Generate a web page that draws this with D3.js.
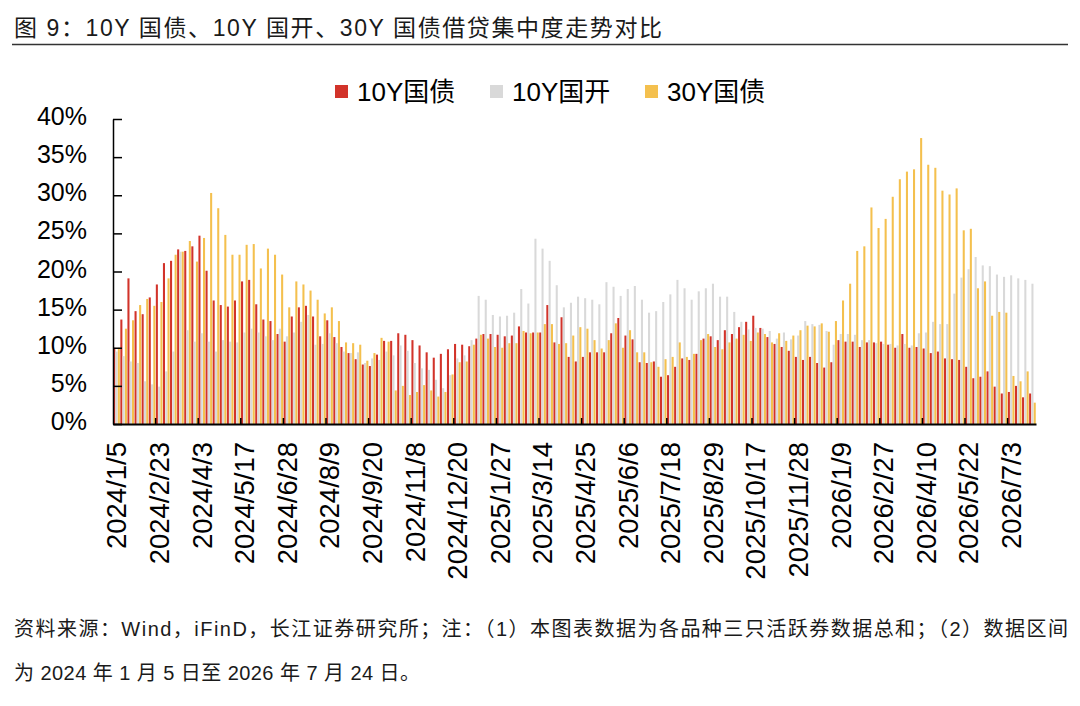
<!DOCTYPE html>
<html lang="zh">
<head>
<meta charset="UTF-8">
<title>借贷集中度走势对比</title>
<script src="https://d3js.org/d3.v7.min.js"></script>
<style>
  body { margin: 0; background: #fff; }
  svg text { font-family: "Liberation Sans", Arial, "Noto Sans CJK SC", sans-serif; fill: #000; }
</style>
</head>
<body>
<script>
// x-axis labels, one every 6 weekly categories
const tickLabels = ["2024/1/5","2024/2/23","2024/4/3","2024/5/17","2024/6/28","2024/8/9",
  "2024/9/20","2024/11/8","2024/12/20","2025/1/27","2025/3/14","2025/4/25","2025/6/6",
  "2025/7/18","2025/8/29","2025/10/17","2025/11/28","2026/1/9","2026/2/27","2026/4/10",
  "2026/5/22","2026/7/3"];

const seriesNames = ["10Y国债", "10Y国开", "30Y国债"];

// weekly values, %
const gov10 = [10.0,13.7,19.1,14.8,14.4,16.6,18.3,21.1,21.4,22.9,22.7,23.3,24.7,20.1,16.2,15.6,15.4,16.2,
  18.7,18.9,15.7,13.7,13.5,11.8,10.8,14.1,15.3,15.5,14.1,11.5,13.6,11.4,10.1,9.3,8.5,7.8,
  7.6,9.1,10.9,10.9,11.9,11.7,11.0,10.3,9.4,8.7,9.2,9.8,10.5,10.4,10.2,11.2,11.8,11.8,
  11.7,11.5,11.6,12.8,12.0,12.0,12.0,15.6,10.7,14.0,8.8,8.2,8.8,9.4,9.4,9.4,11.9,13.9,
  11.6,11.1,8.1,8.0,8.2,6.2,6.4,7.5,8.6,8.4,9.2,11.2,11.5,11.0,12.3,11.8,12.7,13.4,
  14.2,12.6,11.4,10.5,10.1,9.6,8.8,8.4,8.8,8.0,7.4,8.1,11.0,10.8,10.8,10.1,10.7,10.7,
  10.8,10.4,10.0,11.8,10.0,10.1,9.9,9.3,9.5,8.6,8.5,8.4,7.5,6.0,6.2,6.9,4.9,4.0,
  4.2,5.0,3.5,4.0];
const cdb10 = [9.5,8.9,8.2,8.0,5.6,5.2,4.9,6.9,9.5,22.6,12.3,10.8,11.9,10.8,9.5,11.0,10.8,10.7,
  12.0,12.5,12.0,11.5,11.0,12.5,11.5,12.0,13.4,14.3,10.4,10.5,11.9,10.6,9.5,9.3,9.4,8.0,
  8.6,8.4,9.5,9.0,10.3,9.6,8.0,7.3,7.1,5.8,4.7,6.4,8.6,9.0,11.0,16.8,16.3,14.3,
  14.1,14.2,14.6,17.7,15.8,24.3,23.0,21.4,18.2,15.3,15.9,16.7,16.5,16.3,15.7,18.6,18.0,16.8,
  17.7,18.1,16.3,14.6,14.8,16.0,17.0,18.9,17.8,16.3,17.4,17.8,18.4,16.7,16.7,14.7,13.4,12.4,
  12.6,12.5,12.2,11.2,12.0,11.1,11.6,13.5,13.1,13.0,12.2,10.4,11.8,11.8,11.7,11.0,11.0,10.6,
  10.5,10.5,10.3,10.5,10.3,11.9,12.0,13.4,13.1,13.1,17.1,19.2,20.3,21.9,20.8,20.7,19.6,19.3,
  19.5,19.1,18.9,18.4];
const gov30 = [10.0,12.5,13.6,15.6,16.4,15.5,16.0,19.1,22.2,22.6,24.0,21.3,24.4,30.3,28.3,24.8,22.2,22.2,
  23.5,23.6,20.4,23.0,22.2,19.6,15.3,18.7,18.3,17.5,16.3,14.5,15.3,13.5,10.7,10.6,10.4,8.3,
  9.3,11.3,10.8,4.4,5.0,3.8,4.2,5.1,4.4,3.6,4.2,6.5,8.1,8.2,10.4,11.7,11.2,10.1,
  10.0,10.6,10.6,12.2,11.9,12.0,13.1,13.1,10.5,10.6,11.6,12.7,12.5,11.0,9.9,11.0,13.2,10.0,
  12.3,9.4,9.4,8.1,7.5,8.5,8.8,10.7,8.8,9.2,11.0,11.8,10.1,9.8,10.7,11.2,11.7,10.9,
  12.0,11.8,10.7,11.9,10.9,11.6,12.3,12.9,12.8,13.2,12.1,13.5,16.2,18.4,22.7,23.3,28.4,25.7,
  26.9,29.8,32.1,33.1,33.4,37.5,34.0,33.6,30.6,30.1,30.9,25.4,25.6,17.8,18.7,14.2,14.7,14.6,
  6.3,5.6,6.9,2.8];

const series = [gov10, cdb10, gov30];
const colors = ["#d2332a", "#d9d9d9", "#f4c04e"];
const yTicks = [0, 5, 10, 15, 20, 25, 30, 35, 40];

const W = 1080, H = 706;
const n = gov10.length;

const svg = d3.select("body").append("svg")
  .attr("width", W)
  .attr("height", H);

// title + rule
svg.append("text")
  .attr("x", 14).attr("y", 36)
  .attr("textLength", 648).attr("lengthAdjust", "spacing")
  .style("font-size", "23px")
  .style("fill", "#1a1a1a")
  .text("图 9：10Y 国债、10Y 国开、30Y 国债借贷集中度走势对比");
svg.append("line")
  .attr("x1", 12).attr("x2", 1068)
  .attr("y1", 44.5).attr("y2", 44.5)
  .attr("stroke", "#333").attr("stroke-width", 1.5);

// legend
const legend = svg.append("g");
seriesNames.forEach((name, k) => {
  const lx = 335 + k * 155;
  legend.append("rect")
    .attr("x", lx).attr("y", 85)
    .attr("width", 13).attr("height", 13)
    .attr("fill", colors[k]);
  legend.append("text")
    .attr("x", lx + 22).attr("y", 101)
    .style("font-size", "26px")
    .text(name);
});

// scales
const x0 = d3.scaleBand()
  .domain(d3.range(n))
  .range([113, 1036])
  .paddingInner(0).paddingOuter(0);
const x1 = d3.scaleBand()
  .domain(d3.range(series.length))
  .range([0, x0.bandwidth()])
  .padding(0.1);
const y = d3.scaleLinear()
  .domain([0, 40])
  .range([424, 119]);

// bars
series.forEach((vals, k) => {
  svg.append("g").selectAll("rect")
    .data(vals)
    .join("rect")
    .attr("x", (d, i) => x0(i) + x1(k))
    .attr("y", d => y(d))
    .attr("width", x1.bandwidth())
    .attr("height", d => y(0) - y(d))
    .attr("fill", colors[k]);
});

// y axis, ticks pointing inside
const yAxis = svg.append("g")
  .attr("transform", "translate(113,0)")
  .call(d3.axisLeft(y).tickValues(yTicks).tickFormat(d => d + "%")
    .tickSizeInner(-9).tickSizeOuter(0).tickPadding(26));
yAxis.select(".domain").attr("stroke", "#000").attr("stroke-width", 1.5);
yAxis.selectAll(".tick line").attr("stroke", "#000").attr("stroke-width", 1.5);
yAxis.selectAll("text")
  .style("font-size", "25px")
  .attr("dy", "0.22em");

// x axis: labels at category centers, tick marks at group boundaries
const xAxis = svg.append("g")
  .attr("transform", "translate(0,424)")
  .call(d3.axisBottom(x0)
    .tickValues(d3.range(0, n, 6))
    .tickFormat(i => tickLabels[i / 6])
    .tickSize(0));
xAxis.select(".domain").attr("stroke", "#000").attr("stroke-width", 1.8);
xAxis.selectAll("text")
  .style("font-size", "27.5px")
  .attr("transform", "rotate(-90)")
  .attr("text-anchor", "end")
  .attr("x", -18)
  .attr("y", 0)
  .attr("dy", "0.36em");

svg.append("g").selectAll("line")
  .data(d3.range(6, n, 6))
  .join("line")
  .attr("x1", i => x0(i)).attr("x2", i => x0(i))
  .attr("y1", 424).attr("y2", 418)
  .attr("stroke", "#000").attr("stroke-width", 1.5);

// source note
svg.append("text")
  .attr("x", 14).attr("y", 636)
  .attr("textLength", 1054).attr("lengthAdjust", "spacing")
  .style("font-size", "20px")
  .style("fill", "#1a1a1a")
  .text("资料来源：Wind，iFinD，长江证券研究所；注：（1）本图表数据为各品种三只活跃券数据总和；（2）数据区间");
svg.append("text")
  .attr("x", 14).attr("y", 680)
  .attr("textLength", 406).attr("lengthAdjust", "spacing")
  .style("font-size", "20px")
  .style("fill", "#1a1a1a")
  .text("为 2024 年 1 月 5 日至 2026 年 7 月 24 日。");
</script>
</body>
</html>
